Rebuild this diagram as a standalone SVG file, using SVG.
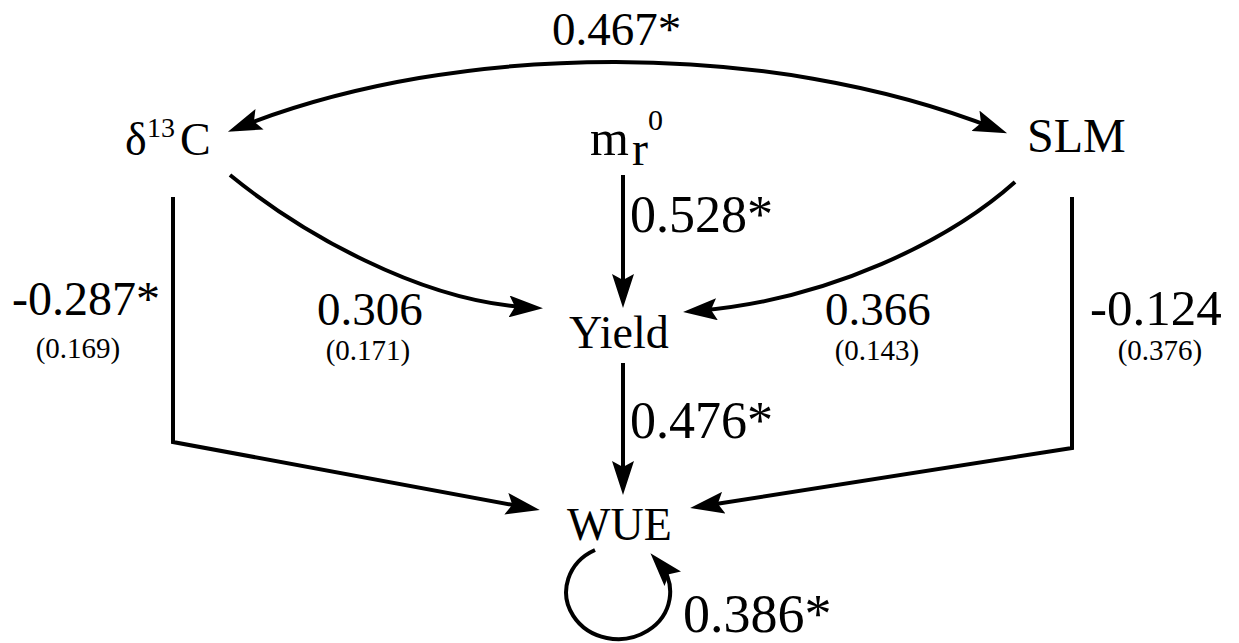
<svg xmlns="http://www.w3.org/2000/svg" width="1239" height="643" viewBox="0 0 1239 643" font-family="'Liberation Serif', 'DejaVu Serif', serif">
<style>
text, tspan{font-family:'Liberation Serif','DejaVu Serif',serif;fill:#000}
.lbl{font-size:48px}
.coef{font-size:48px}
.se{font-size:29px}
.edge{fill:none;stroke:#000;stroke-width:4}
</style>
<defs>
<marker id="ah" viewBox="0 0 34 22" refX="21" refY="11" markerWidth="34" markerHeight="22" markerUnits="userSpaceOnUse" orient="auto-start-reverse">
<path d="M0,0 L34,11 L0,22 L6,11 Z" fill="#000"/>
</marker>
</defs>
<rect width="1239" height="643" fill="#fff"/>
<g id="connectors">
<path class="edge" d="M240,127 C460,40 770,40 995,128.5" marker-start="url(#ah)" marker-end="url(#ah)"/>
<path class="edge" d="M230,175 C300,232 420,302 530,307.5" marker-end="url(#ah)"/>
<path class="edge" d="M1015,182 C950,240 830,300 696,311" marker-end="url(#ah)"/>
<path class="edge" d="M623,175 V295" marker-end="url(#ah)"/>
<path class="edge" d="M623,363 V482" marker-end="url(#ah)"/>
<path class="edge" d="M173,197 V442 L527,507.6" marker-end="url(#ah)"/>
<path class="edge" d="M1072,197 V448 L703,506" marker-end="url(#ah)"/>
<path class="edge" d="M595,550 A52,47 0 1 0 659,563" marker-end="url(#ah)"/>
</g>
<g id="labels">
<text class="coef" x="552" y="45" style="font-size:47px">0.467*</text>
<text class="coef" x="630" y="232" style="font-size:52px">0.528*</text>
<text class="coef" x="630" y="438" style="font-size:52px">0.476*</text>
<text class="coef" x="317" y="325" style="font-size:47px">0.306</text>
<text class="se" x="368" y="360" text-anchor="middle">(0.171)</text>
<text class="coef" x="825" y="325" style="font-size:47px">0.366</text>
<text class="se" x="877" y="360" text-anchor="middle">(0.143)</text>
<text class="coef" x="12" y="315">-0.287*</text>
<text class="se" x="78" y="358" text-anchor="middle">(0.169)</text>
<text class="coef" x="1090" y="325" style="font-size:51px">-0.124</text>
<text class="se" x="1160" y="360" text-anchor="middle">(0.376)</text>
<text class="coef" x="683" y="632" style="font-size:54px">0.386*</text>
</g>
<g id="node-d13C">
<text class="lbl" x="125" y="155" style="font-size:46px">δ<tspan x="147" y="137" style="font-size:28px">13</tspan><tspan x="180" y="155">C</tspan></text>
</g>
<g id="node-mr0">
<text x="590" y="155" style="font-size:50px">m</text>
<text x="632" y="165" style="font-size:48px">r</text>
<text x="648" y="130" style="font-size:30px">0</text>
</g>
<g id="node-SLM">
<text class="lbl" x="1027" y="152">SLM</text>
</g>
<g id="node-Yield">
<text class="lbl" x="569" y="348" style="font-size:46px">Yield</text>
</g>
<g id="node-WUE">
<text class="lbl" x="567" y="540" style="font-size:46px">WUE</text>
</g>
</svg>
